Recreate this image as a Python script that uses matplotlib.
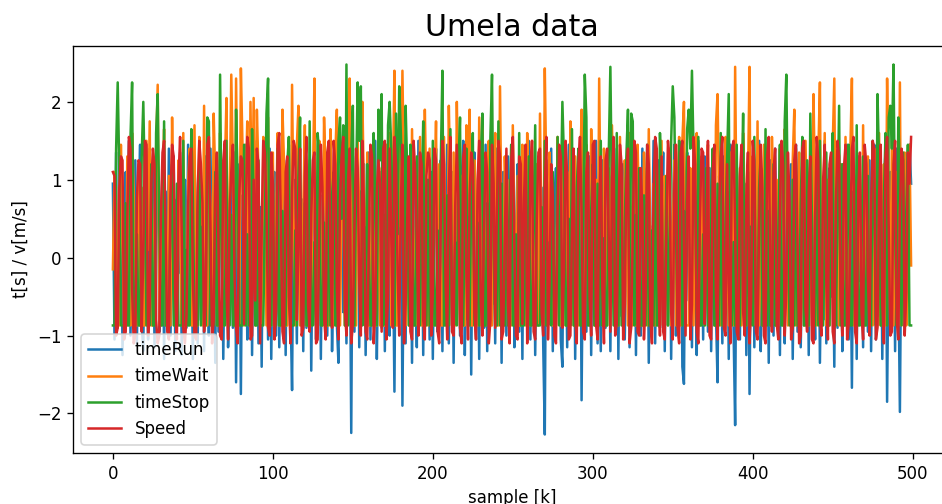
import numpy as np
import matplotlib.pyplot as plt

time_run = [
    0.95, -1.05, 1.35, -0.9, 0.4, 1.3, -1.25, 0.2, 1.1, -0.6, 1.5, -1.0, 0.7, -0.3, 1.25, -1.1, 0.55, 1.45, -0.85, -1.2, 0.9, 0.1, -1.05, 1.4, -0.4,
    1.2, -1.15, 0.6, 1.55, -0.95, 0.3, 1.1, -1.3, 0.85, -0.5, 1.4, -1.0, 0.15, 1.3, -1.2, 0.75, -0.2, 1.35, -1.25, 0.5, 1.0, -0.9, 1.45, -0.65, 0.25,
    -1.3, 1.2, 0.4, -1.1, 1.5, -0.8, 0.9, -1.2, 1.3, 0.05, -1.0, 1.4, -0.45, 0.7, -1.35, 1.25, -0.95, 0.35, 1.1, -1.3, 0.6, 1.45, -1.15, -0.3, 1.05,
    -0.9, 1.35, -1.6, 0.5, 1.2, -1.75, 0.8, -0.7, 1.45, -1.05, 0.2, 1.3, -1.25, 0.95, -0.4, 1.5, -1.1, 0.65, -1.4, 1.2, -0.2, 0.85, -1.05, 1.4, -1.3,
    0.45, 1.1, -1.0, 1.35, -1.15, 0.3, -0.75, 1.25, -1.25, 0.9, 1.45, -0.6, -1.7, 1.0, 0.55, -1.1, 1.3, -0.35, 0.75, -1.2, 1.5, -0.9, 0.15, 1.2, -1.45,
    0.6, 1.4, -1.05, 0.25, 1.15, -1.3, 0.8, -0.55, 1.35, -1.0, 0.45, 1.5, -1.2, 0.1, 1.25, -0.85, -1.35, 0.95, 1.4, -0.7, 0.35, -1.1, 1.2, 0.7, -2.25,
    1.3, -0.95, 0.5, 1.45, -1.15, 0.85, -0.3, 1.2, -1.25, 0.4, 1.35, -1.05, 0.65, -0.6, 1.5, -1.3, 0.2, 1.1, -0.9, 1.4, -1.2, 0.75, 0.05, -1.0, 1.25,
    0.3, -1.72, 1.15, -0.8, 0.9, 1.45, -1.9, 0.55, -1.1, 1.3, -0.45, 0.7, -1.35, 1.2, 0.1, -1.15, 1.5, -0.7, 0.85, -1.25, 1.35, -0.2, 0.45, -1.05, 1.1,
    -1.3, 0.6, 1.4, -0.95, 0.25, 1.25, -1.2, 0.8, -0.5, 1.45, -1.1, 0.4, 1.1, -1.35, 0.7, -0.1, 1.3, -1.0, 0.95, 1.5, -1.25, 0.15, -0.8, 1.2, -1.5,
    0.85, 1.35, -1.05, 0.5, -1.3, 1.15, 0.2, -0.9, 1.45, -1.2, 0.65, 1.25, -0.6, 0.35, -1.1, 1.4, -0.25, 0.9, -1.35, 1.1, 0.45, -1.0, 1.3, -0.75, 0.6,
    1.45, -1.15, 0.3, 1.2, -0.95, 0.75, -1.3, 1.35, 0.1, -0.7, 1.5, -1.05, 0.55, 1.05, -1.25, 0.4, 1.3, -0.5, 0.9, -1.1, -2.27, 1.25, 0.2, -0.85, 1.4,
    -1.2, 0.7, 1.15, -0.4, 0.95, -1.05, -1.4, 1.35, 0.5, -1.15, 1.45, -0.8, 0.25, 1.2, -1.3, 0.8, -0.15, 1.4, -1.83, 0.6, 1.1, -0.95, 0.35, 1.3, -1.25,
    0.9, -0.6, 1.5, -1.1, 0.45, -1.2, 1.25, 0.15, -0.9, 1.35, 0.7, -1.2, 1.05, -0.35, 0.55, 1.4, -1.3, 0.85, -0.75, 1.2, -1.05, 0.3, 1.45, -1.15, 0.65,
    -0.5, 1.3, -1.25, 0.95, 0.2, -1.0, 1.4, -0.65, 0.75, 1.15, -1.35, 0.4, -0.2, 1.5, -1.1, 0.6, 1.25, -0.9, 0.1, 1.35, -1.2, 0.85, -0.45, 1.05, -1.3,
    0.5, 1.45, -1.0, 0.3, -0.8, 1.2, -1.4, -1.62, 0.9, 1.35, -0.55, 0.7, -1.15, 1.1, 0.25, -1.25, 1.5, -0.35, 0.8, -1.05, 1.3, 0.45, -0.95, 1.15, -1.2,
    0.6, 1.4, -0.7, -1.6, 1.05, 0.35, -1.1, 1.3, -0.25, 0.85, -1.3, 1.45, 0.15, -0.9, -2.15, 1.2, 0.5, -1.05, 1.35, -0.6, 0.95, -1.25, 1.1, -1.75, 0.4,
    1.3, -1.15, 0.7, -0.4, 1.5, -1.2, 0.25, 1.15, -0.85, 0.9, -1.35, 1.25, 0.55, -1.0, 1.4, -0.3, 0.75, -1.25, 1.05, 0.2, -1.1, 1.35, -0.65, 0.6, 1.2,
    -1.3, 0.45, 1.45, -0.95, 0.85, -1.15, 0.1, 1.3, -0.7, 1.1, -1.25, 0.65, 1.4, -0.2, -1.05, 0.95, 1.25, -1.35, 0.3, -0.8, 1.5, -1.1, 0.7, 1.15, -0.5,
    0.35, -1.4, 1.35, -0.9, 0.8, 1.2, -1.2, 0.15, -0.6, 1.45, -1.05, 0.55, -1.67, 1.1, 0.9, -1.3, 1.3, -0.3, 0.65, -1.15, 1.4, 0.2, -0.95, 1.25, -1.2,
    0.75, 1.45, -1.05, 0.4, -0.75, 1.2, -1.3, 0.95, 1.35, -1.85, 0.25, 1.1, -0.55, 0.85, -1.2, 1.4, -0.1, -1.98, 0.6, 1.3, -0.9, 1.05, -0.35, 1.45, 0.95,
]

time_wait = [
    -0.15, 1.1, 0.9, -0.87, -0.87, 1.45, 0.2, -0.87, -0.87, 1.3, -0.4, -0.87, 1.6, 0.85, -0.87, -0.87, 1.2, -0.87, 0.9, -0.87, -0.87, 1.5, 0.1, 1.75, -0.87,
    -0.87, 0.5, 1.35, 2.22, -0.87, -0.87, 0.7, 1.65, -0.87, -0.87, 1.05, -0.87, 1.8, 0.3, -0.87, -0.87, 1.25, 0.45, -0.87, 1.6, -0.87, -0.87, 0.95, 1.4, -0.87,
    -0.87, 1.7, -0.87, -0.87, 1.55, 0.8, -0.87, 1.95, -0.87, -0.87, 1.3, 0.55, -0.87, 1.85, 1.0, -0.87, -0.87, 1.6, 0.25, -0.87, 1.15, 2.05, -0.87, 0.65, 2.35,
    1.2, -0.87, 2.3, 0.4, -0.87, 2.43, 1.45, -0.87, 0.9, 1.75, -0.87, 2.0, 0.3, 2.05, -0.87, 1.9, 1.1, -0.87, -0.87, 1.55, 0.7, -0.87, 1.8, -0.87, -0.87,
    1.35, -0.87, 0.5, 1.6, -0.87, -0.87, 1.9, 1.2, -0.87, -0.87, 0.75, -0.87, 2.22, 0.35, -0.87, 1.45, 1.95, -0.87, -0.87, 0.6, 1.7, -0.87, -0.87, 1.25, -0.87,
    0.9, 2.3, -0.87, -0.87, 1.5, 0.2, -0.87, 1.8, 1.05, -0.87, -0.87, 1.65, 0.45, -0.87, 1.3, 1.9, -0.87, -0.87, 0.8, 1.4, -0.87, -0.87, 1.7, 2.3, -0.87,
    1.1, -0.87, -0.87, 1.55, 0.55, -0.87, 2.0, 0.7, -0.87, 1.35, -0.87, -0.87, 0.95, 1.5, -0.87, -0.87, 1.75, -0.87, 1.15, -0.87, -0.87, 1.45, 0.6, 1.6, -0.87,
    1.0, 2.4, -0.87, -0.87, 1.85, 0.4, 2.4, 0.85, -0.87, 1.3, -0.87, -0.87, 1.65, 0.15, -0.87, 1.1, -0.87, 1.55, -0.87, -0.87, 1.9, 0.75, -0.87, 1.4, -0.87,
    -0.87, 0.65, 1.75, -0.87, 1.2, -0.87, -0.87, 1.55, 0.1, -0.87, 1.95, 0.9, -0.87, 1.35, -0.87, 2.0, 0.8, -0.87, 1.05, -0.87, -0.87, 1.7, 0.55, 1.9, -0.87,
    -0.87, 1.25, 0.7, -0.87, 1.8, -0.87, 1.8, 0.35, -0.87, 1.15, 1.5, -0.87, -0.87, 0.9, 1.6, -0.87, -0.87, 2.2, 0.25, -0.87, 1.3, 0.6, -0.87, 1.0, -0.87,
    1.7, 0.45, -0.87, 1.05, -0.87, -0.87, 1.45, 0.2, -0.87, 1.6, 0.75, -0.87, 1.5, 0.3, -0.87, 1.2, -0.87, 1.85, 0.05, -0.87, 2.43, 0.95, -0.87, 1.35, 0.5,
    -0.87, -0.87, -0.87, 1.55, 0.85, -0.87, 1.5, 0.4, -0.87, 1.1, -0.87, 1.75, 0.65, -0.87, 1.3, 0.2, -0.87, 0.9, 1.9, -0.87, -0.87, 1.45, 0.35, -0.87, 1.65,
    0.7, -0.87, 1.0, -0.87, 2.3, 0.3, -0.87, 1.4, 0.6, -0.87, 1.15, -0.87, 1.7, 0.45, -0.87, 0.95, -0.87, 1.55, 0.1, -0.87, 1.25, 0.8, -0.87, 1.6, 0.25,
    -0.87, 1.1, -0.87, 1.45, 0.55, -0.87, -0.87, 1.35, 0.7, -0.87, 1.65, 0.2, -0.87, 0.95, -0.87, 1.2, 0.4, -0.87, 1.5, -0.87, 1.05, 0.65, -0.87, 1.4, -0.87,
    0.3, 1.25, -0.87, 0.85, 1.55, -0.87, 1.5, 2.0, -0.87, -0.87, -0.87, 1.15, 0.5, -0.87, 0.75, 1.6, -0.87, -0.87, 1.3, 0.35, -0.87, 0.9, 1.45, -0.87, 0.15,
    1.2, -0.87, 1.7, 2.1, 0.6, -0.87, 1.05, -0.87, 1.55, 0.4, -0.87, 1.35, 0.8, -0.87, 2.45, 0.25, -0.87, 1.15, -0.87, 1.6, 0.7, -0.87, 0.95, 2.45, -0.87,
    1.3, 0.5, -0.87, 1.75, -0.87, 0.9, -0.87, 1.45, -0.87, 0.3, 1.2, -0.87, 1.55, 0.65, -0.87, 1.0, -0.87, 1.4, 0.2, -0.87, 1.65, 0.85, -0.87, 0.45, -0.87,
    1.25, 1.9, -0.87, 0.6, 1.35, -0.87, 0.95, -0.87, 1.5, 0.15, -0.87, 1.1, -0.87, 2.1, 0.7, -0.87, 1.3, 2.25, -0.87, 0.4, 1.6, -0.87, 1.0, -0.87, 0.55,
    1.45, 2.3, -0.87, 0.8, -0.87, 1.2, 0.35, -0.87, 1.55, -0.87, 0.9, 1.35, 2.3, -0.87, 0.6, -0.87, 1.15, 0.25, -0.87, 1.7, -0.87, 0.95, 1.3, -0.87, 0.5,
    -0.87, 1.4, 0.75, -0.87, 1.6, -0.87, 0.3, 1.2, -0.87, 2.3, 0.85, -0.87, 1.5, -0.87, 0.55, 1.1, -0.87, 2.25, -0.87, 0.65, 1.35, -0.87, 0.2, 1.45, -0.1,
]

time_stop = [
    -0.87, -0.87, 1.4, 2.25, 1.1, -0.87, -0.87, -0.87, 0.7, -0.87, -0.87, 1.55, 2.25, -0.87, -0.87, 0.3, -0.87, -0.87, 1.3, 2.0, 0.85, -0.87, -0.87, -0.87, 1.2,
    -0.87, -0.87, 1.6, 2.1, 0.45, -0.87, -0.87, 1.75, -0.87, -0.87, -0.87, 0.6, 1.2, -0.87, -0.87, 0.95, -0.87, -0.87, -0.87, 1.5, -0.87, 0.1, -0.87, -0.87, 1.65,
    0.75, -0.87, -0.87, -0.87, 1.35, -0.87, 0.4, -0.87, -0.87, 1.8, 1.75, -0.87, -0.87, -0.87, 1.1, -0.87, -0.87, 2.35, 0.25, -0.87, -0.87, 1.5, -0.87, -0.87, 0.55,
    -0.87, -0.87, 1.9, 0.9, -0.87, -0.87, -0.87, 1.45, -0.87, 0.3, -0.87, -0.87, 1.65, 0.75, -0.87, -0.87, 1.25, -0.87, -0.87, -0.87, 0.5, 1.85, 2.3, -0.87, -0.87,
    0.95, -0.87, -0.87, 1.4, -0.87, -0.87, 0.6, -0.87, -0.87, 1.2, 1.55, -0.87, -0.87, -0.87, 0.35, -0.87, 1.05, 1.8, -0.87, -0.87, 0.7, -0.87, -0.87, 1.75, -0.87,
    -0.87, 0.2, -0.87, 1.6, 1.3, -0.87, -0.87, 0.45, -0.87, -0.87, 1.45, -0.87, 0.8, 1.1, -0.87, -0.87, 1.5, 1.8, 0.5, 1.7, -0.87, 2.48, -0.87, 0.65, 1.35,
    1.95, -0.87, 0.9, 2.25, 1.5, 2.2, -0.87, 0.4, -0.87, 1.2, 0.1, -0.87, -0.87, 1.6, 0.75, -0.87, 1.9, 1.25, 2.1, -0.87, 0.55, -0.87, 1.7, 2.0, 1.4,
    0.6, -0.87, 1.85, 0.3, 2.2, 1.6, 0.85, -0.87, 1.95, 1.1, -0.87, 1.45, 0.5, -0.87, -0.87, 1.3, -0.87, -0.87, 0.7, 1.75, -0.87, -0.87, 1.0, -0.87, -0.87,
    1.5, -0.87, -0.87, 0.35, -0.87, 1.25, 2.4, -0.87, -0.87, 0.8, -0.87, 1.65, -0.87, -0.87, 0.2, -0.87, 1.1, 1.8, -0.87, -0.87, 0.55, 1.4, -0.87, -0.87, 0.9,
    1.6, -0.87, -0.87, 0.45, -0.87, 1.3, 1.85, -0.87, -0.87, 0.7, -0.87, 1.55, 2.35, 0.15, -0.87, -0.87, 1.75, -0.87, 0.95, -0.87, -0.87, 1.2, -0.87, 0.6, 1.45,
    -0.87, -0.87, 0.3, -0.87, 1.6, -0.87, -0.87, -0.87, 0.85, -0.87, 1.3, -0.87, -0.87, 0.4, 1.7, -0.87, -0.87, -0.87, 0.65, -0.87, 1.5, -0.87, -0.87, 0.2, -0.87,
    1.1, -0.87, -0.87, 1.55, -0.87, 0.75, 2.0, 1.25, -0.87, -0.87, 0.5, -0.87, 1.65, -0.87, -0.87, 0.9, 1.4, -0.87, -0.87, 0.3, 2.35, 1.8, -0.87, -0.87, 0.6,
    1.2, -0.87, -0.87, 0.95, -0.87, 1.5, -0.87, 0.25, -0.87, -0.87, 1.35, 2.45, 0.7, -0.87, -0.87, 1.6, -0.87, 1.0, -0.87, -0.87, 0.45, 1.3, 1.9, -0.87, 1.85,
    1.75, -0.87, 0.55, -0.87, 1.15, -0.87, -0.87, 0.8, -0.87, 1.45, -0.87, -0.87, 0.35, -0.87, 1.25, -0.87, -0.87, 1.6, 0.9, -0.87, -0.87, 1.05, -0.87, 0.15, 1.5,
    2.2, 1.8, 0.4, -0.87, 1.5, 1.2, -0.87, 0.6, -0.87, 1.65, 1.9, 1.4, 2.4, 1.35, 0.8, -0.87, 1.55, -0.87, -0.87, 0.3, -0.87, 1.15, -0.87, -0.87, 0.7,
    1.4, -0.87, -0.87, 0.95, -0.87, 1.6, -0.87, -0.87, 0.5, 1.3, 2.1, -0.87, -0.87, 0.2, -0.87, 1.45, -0.87, -0.87, 0.75, 1.85, -0.87, -0.87, 1.1, -0.87, 0.4,
    -0.87, 1.55, -0.87, -0.87, 0.9, 1.35, -0.87, -0.87, 1.65, -0.87, 0.6, -0.87, -0.87, 1.2, -0.87, -0.87, 0.35, 1.45, -0.87, -0.87, 1.75, 2.35, 0.5, -0.87, -0.87,
    1.0, -0.87, 1.4, -0.87, -0.87, 0.7, 1.55, -0.87, -0.87, 1.25, -0.87, 1.85, 0.45, -0.87, -0.87, 1.1, -0.87, 1.5, -0.87, -0.87, 0.25, 1.35, -0.87, -0.87, 0.8,
    1.6, -0.87, -0.87, 0.55, 1.95, -0.87, 1.2, -0.87, -0.87, 0.4, 1.45, -0.87, -0.87, 0.85, -0.87, 1.7, -0.87, -0.87, 0.3, 1.3, -0.87, -0.87, 1.05, -0.87, -0.87,
    1.5, 0.6, -0.87, 2.1, 1.2, -0.87, -0.87, 0.75, 1.6, -0.87, 1.8, 1.95, 1.4, 2.48, 0.4, -0.87, 1.8, 1.05, -0.87, 1.35, -0.87, 0.6, 1.45, -0.87, -0.87,
]

speed = [
    1.1, 1.05, -1.0, -0.9, 0.9, 1.3, 1.25, -1.05, -0.95, 0.5, 1.55, 1.4, -0.4, -1.1, -1.0, 0.75, 1.25, 1.2, -0.95, 0.1, 1.5, 1.45, -1.0, -0.6, 0.95,
    1.4, 1.2, -0.8, -1.1, -1.0, 0.55, 1.35, 1.5, 0.25, -0.95, -1.05, 0.8, 1.45, 1.3, -0.5, -1.05, 1.0, 1.55, 0.35, -0.9, -1.1, -0.75, 0.65, 1.3, 1.4,
    -0.3, -1.0, -1.05, 0.85, 1.5, 1.2, 0.7, -0.95, -0.6, 1.45, 1.55, 0.4, -1.1, -0.8, 0.9, 1.35, 0.15, -1.0, -1.05, 1.25, 1.5, -0.45, -1.05, 0.6, 1.1,
    1.45, -0.2, -0.9, -1.1, 0.8, 1.3, 1.25, -0.85, 0.5, 1.55, 1.4, -1.05, -1.0, 1.0, -0.55, 1.4, 1.2, -1.1, 0.3, 1.5, 1.35, 0.7, -0.9, -1.0, 1.35,
    0.95, -1.05, -0.7, 1.45, 1.6, 0.45, -0.95, -1.1, 1.1, 1.3, -0.5, -1.1, 0.85, 1.5, 1.4, -0.8, 0.2, 1.4, -1.0, -0.9, 1.05, 1.55, -0.6, -0.95, 0.55,
    1.25, 1.35, -1.1, -1.05, 0.35, 1.45, 0.9, -0.75, -1.05, 1.35, 1.5, 0.0, -0.9, 1.5, 1.2, -0.4, -1.05, 0.75, 1.3, 1.55, -0.65, -1.0, 1.0, 1.4, -1.1,
    -0.85, 0.4, 1.4, 1.15, -0.3, -1.0, 1.5, 0.6, -0.95, -1.05, 0.15, 1.45, 1.3, -1.1, -0.7, 0.85, 1.25, 0.95, -0.95, 1.4, 1.5, -1.05, -0.5, 1.4, 0.3,
    -0.9, 1.55, 1.2, -0.2, -1.0, 0.7, 1.45, -1.1, -0.6, 0.5, 1.3, -0.95, -1.05, 1.5, 1.1, 0.25, -1.0, 1.35, 1.2, -0.8, -1.05, 1.05, 1.35, 1.25, -1.0,
    -0.45, 1.4, 1.25, -0.95, -1.1, 0.55, 1.5, 1.2, -0.35, -1.05, 0.9, 1.55, -0.95, -1.0, 0.65, 1.45, 0.75, -0.9, -1.1, 1.3, 1.45, -0.25, -1.05, 0.8, 1.35,
    1.2, -0.7, -1.05, 1.0, 1.5, -0.55, -1.0, 0.4, 1.35, 1.1, -1.1, -0.8, 1.45, 0.95, -0.9, 0.6, 1.5, 1.3, -1.05, -0.95, 0.2, 1.4, -0.6, -1.1, 1.25,
    1.55, 0.1, -1.0, -1.05, 1.3, 1.2, -0.85, 0.75, 1.45, -1.1, -0.4, 1.1, 1.5, -0.95, -1.05, 0.5, 1.35, 1.4, -0.7, -1.0, 0.9, 1.55, -1.05, -0.3, 1.2,
    0.8, -1.0, -1.1, 0.65, 1.45, 1.3, -0.9, -0.2, 1.5, 1.05, -1.05, -1.0, 0.35, 1.4, -0.75, -1.1, 1.2, 1.55, 0.55, -0.95, -1.05, 1.1, 1.35, -0.5, -1.0,
    1.45, 1.5, -0.85, -1.05, 0.7, 1.3, -0.4, -1.1, 1.25, 1.4, 0.2, -0.95, 1.0, 1.55, -1.0, -0.85, 0.45, 1.45, 1.2, -1.05, -0.6, 0.95, 1.4, -1.1, -0.9,
    0.3, 1.5, 1.35, -0.95, -1.0, 1.15, 0.6, -1.05, -0.5, 1.45, 1.2, -0.8, -1.1, 0.85, 1.55, 1.4, -0.25, -1.0, 1.3, -0.95, -1.05, 0.4, 1.5, 1.25, -0.7,
    -1.05, 0.95, 1.45, -0.9, -1.1, 1.35, 1.5, 0.1, -1.0, 0.75, 1.3, -1.05, -0.6, 1.55, 1.2, -0.95, -1.1, 0.5, 1.4, 1.35, -0.85, 0.25, 1.5, -1.0, -1.05,
    1.1, 1.45, -0.45, -1.05, 0.65, 1.3, 1.55, -0.9, -1.0, 1.2, -0.3, -1.1, 1.4, 1.5, 0.35, -0.95, -1.05, 1.05, 1.45, -0.7, -1.0, 0.8, 1.35, -1.1, -0.55,
    1.5, 1.25, -0.95, -1.05, 0.45, 1.45, 0.9, -1.0, -1.1, 1.3, 1.55, -0.2, -0.95, 1.1, 1.4, -0.85, -1.05, 0.6, 1.5, 1.2, -1.0, -0.4, 1.35, 0.75, -1.05,
    -0.9, 1.25, 1.45, 0.15, -1.1, -1.0, 1.4, 1.5, -0.65, -0.95, 0.85, 1.3, -1.05, -1.1, 0.5, 1.55, 1.25, -0.8, -1.0, 1.0, 1.45, -0.35, -1.05, 1.2, 1.35,
    -0.95, -1.1, 0.7, 1.5, 1.3, -0.5, -1.0, 1.15, 1.45, -1.05, -0.85, 0.3, 1.4, 1.55, -0.95, -1.1, 0.9, 1.35, -0.7, -1.05, 1.45, 1.2, -0.25, -1.0, 0.65,
    1.5, 1.4, -1.05, -0.9, 0.8, 1.45, -0.6, -1.1, 1.3, 1.55, 0.4, -1.0, -0.95, 1.2, 1.5, -0.8, -1.05, 0.55, 1.4, 1.25, -1.0, -0.45, 1.35, 0.95, 1.55,
]

sample = np.arange(len(time_run))

fig = plt.figure(figsize=(942 / 120, 504 / 120), dpi=120)
ax = fig.add_axes([73 / 942, 51 / 504, 878 / 942, 407 / 504])

ax.plot(sample, time_run, label='timeRun')
ax.plot(sample, time_wait, label='timeWait')
ax.plot(sample, time_stop, label='timeStop')
ax.plot(sample, speed, label='Speed')

ax.set_title('Umela data', fontsize=18)
ax.set_xlabel('sample [k]')
ax.set_ylabel('t[s] / v[m/s]')
ax.legend(loc='lower left')

fig.savefig('out.png', dpi=120)
